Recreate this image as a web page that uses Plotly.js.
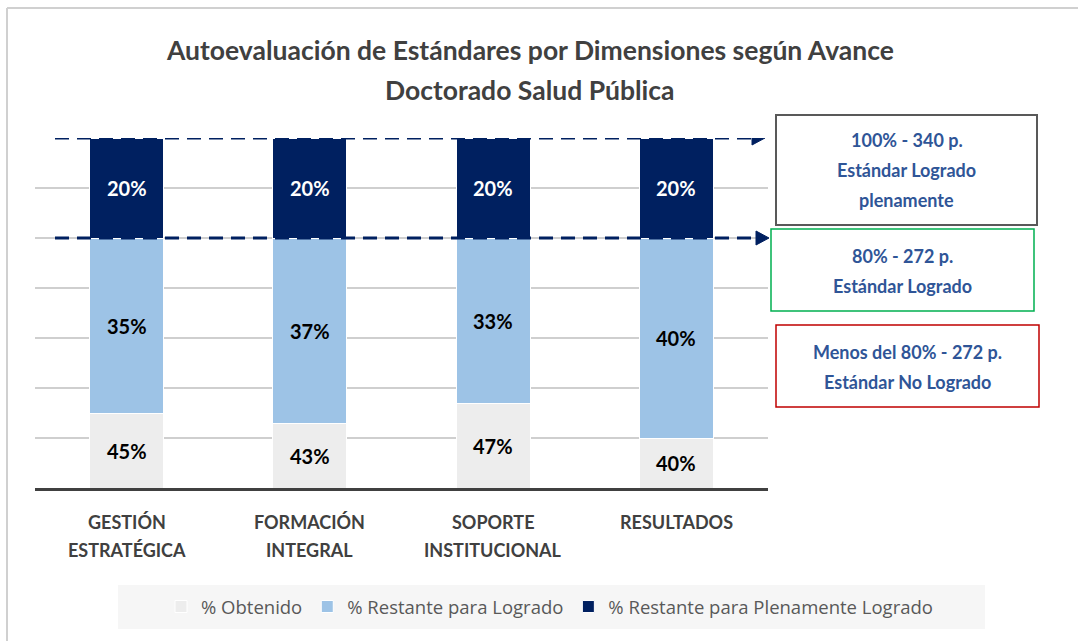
<!DOCTYPE html>
<html>
<head>
<meta charset="utf-8">
<script src="https://cdn.plot.ly/plotly-3.0.1.min.js"></script>
<style>html,body{margin:0;padding:0;background:#fff;}#chart{width:1078px;height:641px;}</style>
</head>
<body>
<div id="chart"></div>
<script>
// ---- data ----
const categories = ["GESTIÓN<br>ESTRATÉGICA", "FORMACIÓN<br>INTEGRAL", "SOPORTE<br>INSTITUCIONAL", "RESULTADOS"];
const obtenido = [45, 43, 47, 40];
const restanteLogrado = [35, 37, 33, 40];
const restantePlenamente = [20, 20, 20, 20];
const seriesNames = ["% Obtenido", "% Restante para Logrado", "% Restante para Plenamente Logrado"];
const thresholdLogrado = 80;
const thresholdPleno = 100;
const axisMin = 30;
const boxTexts = [
  ["100% - 340 p.", "Estándar Logrado", "plenamente"],
  ["80% - 272 p.", "Estándar Logrado"],
  ["Menos del 80% - 272 p.", "Estándar No Logrado"]
];
const titleLines = ["Autoevaluación de Estándares por Dimensiones según Avance", "Doctorado Salud Pública"];

// ---- layout helpers (pixel -> paper) ----
const L = 35, T = 138, W = 733, H = 350;
const px = p => (p - L) / W;
const py = p => (T + H - p) / H;

const colors = ["#ededed", "#9dc3e6", "#002060"];
const boldFont = "Lato, Open Sans, sans-serif";

const xIdx = categories.map((_, i) => i);
const traces = [obtenido, restanteLogrado, restantePlenamente].map((vals, k) => ({
  type: "bar",
  x: xIdx,
  y: vals,
  name: seriesNames[k],
  marker: {color: colors[k], line: {color: "#ffffff", width: 1}},
  textposition: "none",
  hoverinfo: "skip"
}));

const annotations = [];
// data labels (centered in visible portion of each segment)
xIdx.forEach(i => {
  let base = 0;
  [obtenido, restanteLogrado, restantePlenamente].forEach((vals, k) => {
    const lo = Math.max(base, axisMin), hi = base + vals[i];
    annotations.push({
      x: i, y: (lo + hi) / 2, xref: "x", yref: "y", xanchor: "center", yanchor: "middle", showarrow: false,
      text: vals[i] + "%",
      font: {family: boldFont, size: 20, color: k === 2 ? "#ffffff" : "#000000", weight: "bold"}
    });
    base = hi;
  });
});
// category labels
categories.forEach((c, i) => {
  c.split("<br>").forEach((line, j) => {
    annotations.push({
      x: i, y: py(522 + j * 28), xref: "x", yref: "paper", xanchor: "center", yanchor: "middle", showarrow: false,
      text: line,
      font: {family: boldFont, size: 18, color: "#404040", weight: "bold"}
    });
  });
});
// title
titleLines.forEach((t, j) => {
  annotations.push({
    x: px(530), y: py(50 + j * 40), xref: "paper", yref: "paper", xanchor: "center", yanchor: "middle", showarrow: false,
    text: t, font: {family: boldFont, size: 26.5, color: "#404040", weight: "bold"}
  });
});
// box texts
const boxes = [
  {x0: 776, x1: 1037, y0: 115, y1: 225, color: "#595959", first: 140},
  {x0: 771, x1: 1034, y0: 229, y1: 311, color: "#00b050", first: 256},
  {x0: 776, x1: 1039, y0: 325, y1: 407, color: "#c00000", first: 352}
];
boxes.forEach((b, k) => {
  boxTexts[k].forEach((line, j) => {
    annotations.push({
      x: px((b.x0 + b.x1) / 2), y: py(b.first + j * 30), xref: "paper", yref: "paper",
      xanchor: "center", yanchor: "middle", showarrow: false,
      text: line, font: {family: boldFont, size: 18, color: "#2f5597", weight: "bold"}
    });
  });
});

const shapes = [];
// page border lines
shapes.push({type: "line", xref: "paper", yref: "paper", x0: px(7), x1: px(1078), y0: py(8), y1: py(8), line: {color: "#d0d0d0", width: 2}});
shapes.push({type: "line", xref: "paper", yref: "paper", x0: px(7), x1: px(7), y0: py(8), y1: py(641), line: {color: "#d0d0d0", width: 2}});
// legend background
shapes.push({type: "rect", xref: "paper", yref: "paper", x0: px(118), x1: px(985), y0: py(585), y1: py(629), fillcolor: "#f6f6f6", line: {width: 0}, layer: "below"});
// dashed threshold lines with arrowheads
[[thresholdPleno, 752], [thresholdLogrado, 756]].forEach(([v, xEnd]) => {
  shapes.push({type: "line", xref: "paper", yref: "y", x0: px(55), x1: px(xEnd), y0: v, y1: v,
    line: {color: "#002060", width: 3, dash: "14px,8px"}, layer: "above"});
  shapes.push({type: "path", xref: "paper", yref: "y", xsizemode: "pixel", ysizemode: "pixel",
    xanchor: px(xEnd), yanchor: v, path: "M0,-7 L13,0 L0,7 Z",
    fillcolor: "#002060", line: {color: "#002060", width: 1}, layer: "above"});
});
// boxes
boxes.forEach(b => {
  shapes.push({type: "rect", xref: "paper", yref: "paper", x0: px(b.x0), x1: px(b.x1), y0: py(b.y1), y1: py(b.y0),
    line: {color: b.color, width: b.color === "#595959" ? 2 : 1.5}, fillcolor: "rgba(0,0,0,0)"});
});

const layout = {
  width: 1078, height: 641,
  margin: {l: L, r: 1078 - L - W, t: T, b: 641 - T - H, pad: 0, autoexpand: false},
  paper_bgcolor: "#ffffff", plot_bgcolor: "#ffffff",
  barmode: "stack", bargap: 0.596,
  showlegend: true,
  legend: {orientation: "h", xref: "paper", yref: "paper", x: px(938), xanchor: "right",
    y: py(607), yanchor: "middle",
    bgcolor: "rgba(0,0,0,0)", font: {family: "Open Sans, sans-serif", size: 18.5, color: "#595959"},
    traceorder: "normal", itemwidth: 30},
  xaxis: {range: [-0.5, 3.5], showticklabels: false, showgrid: false, zeroline: false,
    showline: true, linecolor: "#404040", linewidth: 3, ticks: "", fixedrange: true},
  yaxis: {range: [axisMin, 100], dtick: 10, showticklabels: false, showgrid: true,
    gridcolor: "#cfcfcf", gridwidth: 1.5, zeroline: false, showline: false, ticks: "", fixedrange: true},
  annotations: annotations,
  shapes: shapes
};

Plotly.newPlot("chart", traces, layout, {displayModeBar: false, staticPlot: true});
</script>
</body>
</html>
